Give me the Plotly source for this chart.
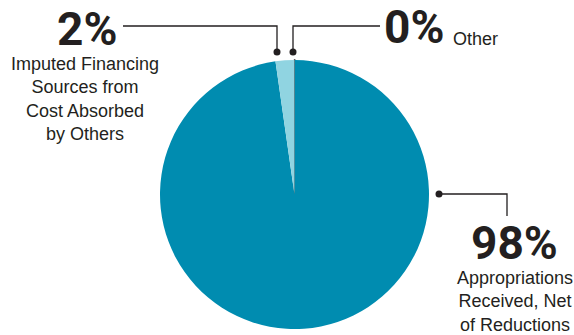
import plotly.graph_objects as go

W, H = 574, 335

labels = ["Other", "Appropriations Received, Net of Reductions",
          "Imputed Financing Sources from Cost Absorbed by Others"]
values = [0.04, 97.7, 2.26]
pct_labels = ["0%", "98%", "2%"]
colors = ["#2a2a2a", "#008cb0", "#90d4e1"]
line_colors = ["#231f20", "rgba(0,0,0,0)", "rgba(0,0,0,0)"]
line_widths = [1.6, 0, 0]

INK = "#231f20"
NUM_FONT = "Roboto, Liberation Sans, Arial, sans-serif"
TXT_FONT = "Liberation Sans, Arial, sans-serif"


def px(x):
    return x / W


def py(y):
    return 1 - y / H


fig = go.Figure(go.Pie(
    labels=labels, values=values, sort=False, direction="clockwise", rotation=0,
    marker=dict(colors=colors, line=dict(color=line_colors, width=line_widths)),
    textinfo="none", hoverinfo="label+percent", showlegend=False,
    domain=dict(x=[px(160), px(429)], y=[py(329), py(60)]),
))

ann = []
# big percentages
for txt, x, y in [(pct_labels[2], 87, 29.5), (pct_labels[0], 413.5, 27), (pct_labels[1], 514, 242.5)]:
    ann.append(dict(text=txt, x=px(x), y=py(y), xref="paper", yref="paper",
                    xanchor="center", yanchor="middle", showarrow=False,
                    font=dict(family=NUM_FONT, size=46, color=INK, weight="bold")))
ann.append(dict(text="Imputed Financing<br>Sources from<br>Cost Absorbed<br>by Others",
                x=px(85), y=py(99), xref="paper", yref="paper", xanchor="center",
                yanchor="middle", align="center", showarrow=False,
                font=dict(family=TXT_FONT, size=18, color=INK)))
ann.append(dict(text="Other", x=px(451), y=py(39), xref="paper", yref="paper",
                xanchor="left", yanchor="middle", showarrow=False,
                font=dict(family=TXT_FONT, size=18, color=INK)))
ann.append(dict(text="Appropriations<br>Received, Net<br>of Reductions",
                x=px(515), y=py(301.5), xref="paper", yref="paper", xanchor="center",
                yanchor="middle", align="center", showarrow=False,
                font=dict(family=TXT_FONT, size=18, color=INK)))

shapes = []
def seg(pts):
    path = "M " + " L ".join(f"{px(a)},{py(b)}" for a, b in pts)
    shapes.append(dict(type="path", path=path, xref="paper", yref="paper",
                       line=dict(color=INK, width=1.3)))

def dot(x, y, r=3.5):
    shapes.append(dict(type="circle", xref="paper", yref="paper",
                       x0=px(x - r), x1=px(x + r), y0=py(y + r), y1=py(y - r),
                       fillcolor=INK, line=dict(width=0)))

seg([(123, 26), (277, 26), (277, 52)])
dot(277, 52)
seg([(380, 26), (293, 26), (293, 52)])
dot(293, 52)
seg([(439, 194), (507, 194), (507, 216)])
dot(439, 194)

fig.update_layout(width=W, height=H, margin=dict(l=0, r=0, t=0, b=0),
                  paper_bgcolor="white", plot_bgcolor="white",
                  annotations=ann, shapes=shapes)
fig.write_html("out.html", config={"displayModeBar": False},
               post_script="document.body.style.margin='0';")
